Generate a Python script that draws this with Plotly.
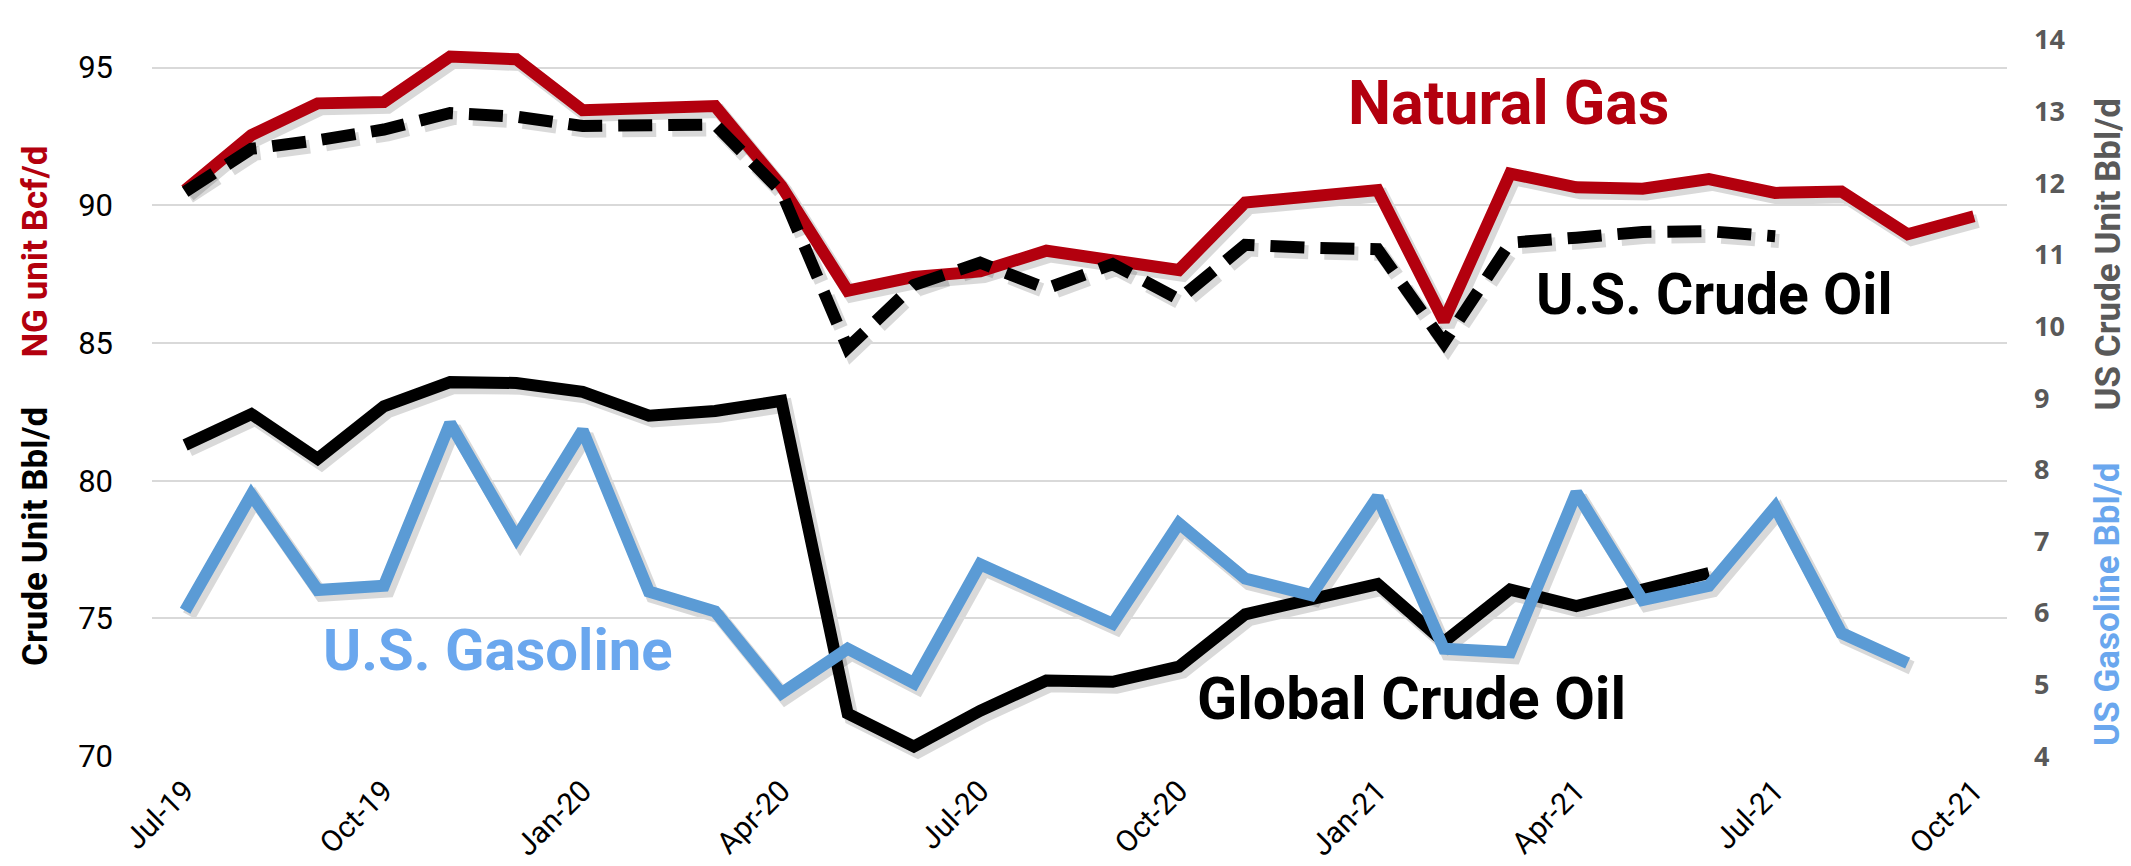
import plotly.graph_objects as go

# ---------------- data ----------------
months = ["Jul-19", "Aug-19", "Sep-19", "Oct-19", "Nov-19", "Dec-19",
          "Jan-20", "Feb-20", "Mar-20", "Apr-20", "May-20", "Jun-20",
          "Jul-20", "Aug-20", "Sep-20", "Oct-20", "Nov-20", "Dec-20",
          "Jan-21", "Feb-21", "Mar-21", "Apr-21", "May-21", "Jun-21",
          "Jul-21", "Aug-21", "Sep-21", "Oct-21"]

# Natural gas, left axis (Bcf/d)
natural_gas = [90.55, 92.55, 93.7, 93.75, 95.4, 95.3, 93.45, 93.5, 93.6, 90.7,
               86.9, 87.4, 87.6, 88.35, 88.0, 87.65, 90.1, 90.3, 90.55, 85.8,
               91.15, 90.65, 90.6, 90.95, 90.45, 90.5, 88.95, 89.6]

# Global crude oil, left axis (Bbl/d), Jul-19 .. Jun-21
global_crude = [81.3, 82.42, 80.8, 82.7, 83.58, 83.55, 83.23, 82.36, 82.53, 82.9,
                71.55, 70.35, 71.65, 72.75, 72.7, 73.25, 75.15, 75.7, 76.25, 74.15,
                76.05, 75.45, 76.0, 76.65]

# U.S. crude oil, right axis (Bbl/d), Jul-19 .. Jul-21
us_crude = [11.88, 12.48, 12.6, 12.75, 12.98, 12.93, 12.8, 12.83, 12.82, 11.88,
            9.7, 10.58, 10.89, 10.53, 10.87, 10.38, 11.14, 11.1, 11.08, 9.77,
            11.17, 11.24, 11.32, 11.33, 11.26]

# U.S. gasoline, right axis (Bbl/d), Jul-19 .. Sep-21
us_gasoline = [6.03, 7.65, 6.32, 6.38, 8.65, 7.05, 8.55, 6.3, 6.02, 4.88,
               5.5, 5.02, 6.68, 6.27, 5.85, 7.25, 6.48, 6.25, 7.62, 5.5,
               5.45, 7.68, 6.18, 6.38, 7.48, 5.72, 5.3]

left_ticks = [70, 75, 80, 85, 90, 95]
right_ticks = [4, 5, 6, 7, 8, 9, 10, 11, 12, 13, 14]
x_ticks = months[::3]

# ---------------- styles ----------------
RED = "#B3000E"
BLUE = "#5B9BD5"
BLUE_TXT = "#6AA7EE"
GRAY = "#595959"
FONT = "Roboto, Arial, sans-serif"
LW = 12
DASH = "34px,16px"
SHADOW = "rgba(0,0,0,0.15)"

W, H = 2131, 866
ML, MT = 144, 22
SX, SY = 4, 5          # shadow offset in px
PW, PH = 1855, 748     # plot area
TW, TH = PW + SX, PH + SY

fig = go.Figure()

def add_series(y, axis_x, axis_y, color, dash, shadow):
    n = len(y)
    fig.add_trace(go.Scatter(
        x=months[:n], y=y, xaxis=axis_x, yaxis=axis_y, mode="lines",
        line=dict(color=SHADOW if shadow else color, width=LW + (2 if shadow else 0),
                  dash=dash),
        hoverinfo="skip" if shadow else None, showlegend=False))

# shadows (subplot x / y,y2)
add_series(global_crude, "x", "y", None, None, True)
add_series(natural_gas, "x", "y", None, None, True)
add_series(us_gasoline, "x", "y2", None, None, True)
add_series(us_crude, "x", "y2", None, DASH, True)
# main lines (subplot x2 / y3,y4)
add_series(global_crude, "x2", "y3", "black", None, False)
add_series(natural_gas, "x2", "y3", RED, None, False)
add_series(us_gasoline, "x2", "y4", BLUE, None, False)
add_series(us_crude, "x2", "y4", "black", DASH, False)

xr = [-0.5, len(months) - 0.5]
hidden = dict(visible=False, showgrid=False, zeroline=False)

fig.update_layout(
    width=W, height=H,
    margin=dict(l=ML, r=W - ML - TW, t=MT, b=H - MT - TH, pad=0),
    paper_bgcolor="white", plot_bgcolor="rgba(0,0,0,0)",
    showlegend=False,
    font=dict(family=FONT, color="black"),
    xaxis=dict(domain=[SX / TW, 1], range=xr, type="category",
               categoryorder="array", categoryarray=months, **hidden),
    yaxis=dict(domain=[0, PH / TH], range=[70, 96], anchor="x", **hidden),
    yaxis2=dict(domain=[0, PH / TH], range=[4, 14], anchor="x", overlaying="y",
                side="right", **hidden),
    xaxis2=dict(domain=[0, PW / TW], range=xr, type="category", anchor="y3",
                categoryorder="array", categoryarray=months,
                tickmode="array", tickvals=x_ticks, ticktext=x_ticks,
                tickangle=-45, tickfont=dict(size=30, color="black", family=FONT),
                showgrid=False, zeroline=False, showline=False, ticks="",
                ticklabelstandoff=10),
    yaxis3=dict(domain=[SY / TH, 1], range=[70, 96], anchor="x2",
                tickmode="array", tickvals=left_ticks,
                tickfont=dict(size=31, color="black", family=FONT),
                showgrid=True, gridcolor="#D9D9D9", gridwidth=2,
                zeroline=False, showline=False, ticks="", ticklabelstandoff=38),
    yaxis4=dict(domain=[SY / TH, 1], range=[4, 14], anchor="x2", overlaying="y3",
                side="right", tickmode="array", tickvals=right_ticks,
                tickfont=dict(size=27, color=GRAY,
                              family="Open Sans, DejaVu Sans, sans-serif", weight="bold"),
                showgrid=False, zeroline=False, showline=False, ticks="",
                ticklabelstandoff=26),
)

def px_x(p):
    return (p - ML) / TW

def px_y(p):
    return (MT + TH - p) / TH

annots = [
    ("<b>Natural Gas</b>", 1500, 88, RED, 61, 0),
    ("<b>U.S. Crude Oil</b>", 1706, 288, "black", 57, 0),
    ("<b>Global Crude Oil</b>", 1403, 710, "black", 59, 0),
    ("<b>U.S. Gasoline</b>", 490, 659, BLUE_TXT, 58, 0),
    ("<b>NG unit Bcf/d</b>", 28, 243, RED, 35, -90),
    ("<b>Crude Unit Bbl/d</b>", 28, 541, "black", 35, -90),
    ("<b>US Crude Unit Bbl/d</b>", 2100, 246, GRAY, 35, -90),
    ("<b>US Gasoline Bbl/d</b>", 2100, 612, BLUE_TXT, 35, -90),
]
for text, px, py, col, size, ang in annots:
    fig.add_annotation(text=text, xref="paper", yref="paper",
                       x=px_x(px), y=px_y(py), xanchor="center", yanchor="middle",
                       showarrow=False, textangle=ang,
                       font=dict(size=size, color=col, family=FONT))

fig.write_html("out.html")
